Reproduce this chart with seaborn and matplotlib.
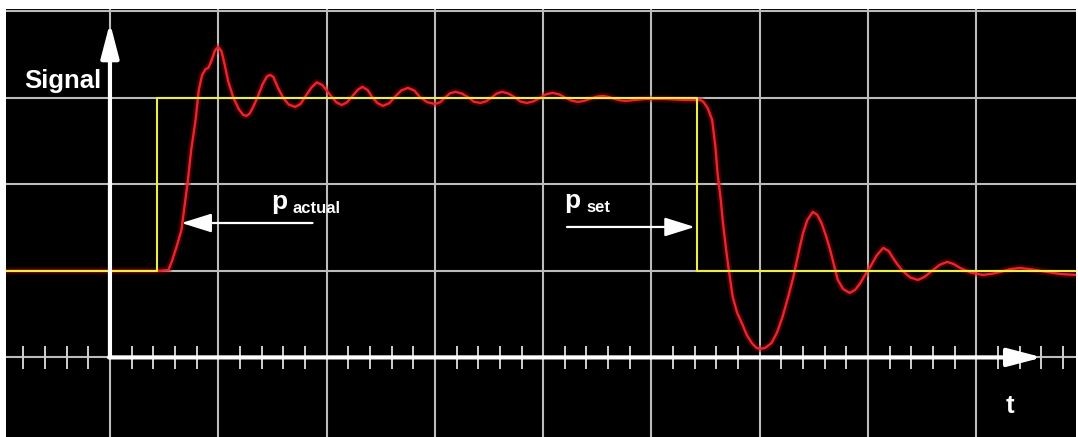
import numpy as np
import pandas as pd
import matplotlib
matplotlib.use('Agg')
from matplotlib import pyplot as plt
import seaborn as sns


# actual value (red trace)
t_actual = [-9.6, 4.6, 5.4, 5.7, 6.2, 6.6, 6.9, 7.2, 7.5, 7.9,
            8.2, 8.5, 8.8, 9.1, 9.4, 9.7, 10.0, 10.3, 10.6, 10.9,
            11.4, 11.9, 12.3, 12.6, 12.9, 13.2, 13.6, 14.1, 14.5, 14.8,
            15.1, 15.5, 16.0, 16.5, 17.1, 17.6, 18.0, 18.6, 19.1, 19.6,
            20.3, 20.9, 21.4, 21.9, 22.4, 22.9, 23.3, 23.8, 24.2, 24.7,
            25.2, 25.8, 26.3, 26.9, 27.5, 28.1, 28.6, 29.3, 30.0, 30.5,
            30.9, 31.4, 31.9, 32.5, 33.1, 33.6, 34.2, 34.7, 35.2, 35.7,
            36.2, 36.8, 37.4, 37.9, 38.5, 39.1, 39.7, 40.3, 40.9, 41.5,
            42.0, 42.6, 43.2, 43.8, 44.3, 44.9, 45.5, 46.1, 46.6, 47.2,
            47.7, 48.5, 49.4, 51.3, 53.1, 54.5, 54.8, 55.2, 55.6, 55.9,
            56.1, 56.4, 56.6, 56.9, 57.1, 57.5, 57.9, 58.4, 58.8, 59.3,
            59.7, 60.0, 60.5, 61.1, 61.6, 62.1, 62.6, 63.1, 63.7, 64.0,
            64.4, 64.9, 65.3, 65.7, 66.1, 66.5, 67.2, 67.7, 68.3, 68.8,
            69.3, 69.7, 70.2, 70.8, 71.4, 71.9, 72.3, 72.8, 73.2, 73.9,
            74.6, 75.2, 75.9, 76.6, 77.3, 77.9, 78.5, 79.5, 80.6, 81.4,
            82.2, 83.1, 84.0, 85.2, 86.5, 87.8, 89.2]
p_actual = [0.0, 0.0, 0.6, 5.2, 15.0, 23.7, 38.0, 52.6, 70.0, 87.0,
            104.6, 113.0, 116.5, 117.5, 122.0, 127.5, 129.5, 127.0, 119.0, 110.0,
            100.0, 93.5, 90.2, 89.6, 91.0, 94.5, 100.0, 108.0, 112.5, 113.3,
            112.0, 106.0, 100.0, 96.2, 94.8, 96.5, 100.5, 106.0, 109.0, 107.5,
            102.0, 97.5, 95.9, 97.5, 101.2, 104.8, 106.4, 104.5, 100.6, 97.0,
            95.4, 97.0, 100.6, 104.3, 105.8, 104.3, 100.6, 97.5, 96.5, 97.5,
            100.0, 102.7, 103.5, 102.5, 100.3, 97.8, 97.1, 98.0, 100.0, 102.5,
            103.5, 102.5, 100.3, 97.9, 97.1, 98.0, 100.0, 102.2, 102.9, 102.0,
            100.3, 98.5, 97.7, 98.3, 99.4, 100.7, 101.2, 100.5, 99.4, 98.5,
            98.3, 98.8, 99.4, 99.4, 98.8, 98.8, 97.7, 94.0, 87.3, 72.0,
            56.6, 41.0, 27.7, 12.0, 2.3, -15.0, -24.0, -31.0, -37.0, -42.0,
            -44.5, -45.1, -44.5, -41.6, -35.5, -26.6, -15.5, -3.5, 13.9, 22.0,
            29.5, 34.1, 32.5, 27.7, 20.5, 12.1, -5.2, -10.5, -12.7, -11.0,
            -6.9, -2.5, 2.3, 9.0, 13.3, 11.5, 7.5, 3.0, 0.0, -3.8,
            -5.2, -3.5, 0.0, 3.5, 5.2, 4.0, 1.7, -1.0, -2.3, -1.7,
            -0.6, 1.0, 1.7, 0.8, -0.6, -1.8, -2.3]

# set value (yellow step)
t_set = [-9.6, 4.3, 4.3, 54.2, 54.2, 89.2]
p_set = [0, 0, 100, 100, 0, 0]

# scope grid
x_major = [0, 10, 20, 30, 40, 50, 60, 70, 80]
y_major = [-50, 0, 50, 100, 150]
x_minor = [v for v in np.arange(-8, 90, 2) if v % 10 != 0]

actual = pd.DataFrame({'t': t_actual, 'p': p_actual})
setp = pd.DataFrame({'t': t_set, 'p': p_set})

sns.set_theme(style='dark', rc={'axes.facecolor': 'black', 'figure.facecolor': 'white'})
plt.rcParams['font.family'] = ['Liberation Sans', 'DejaVu Sans']

fig = plt.figure(figsize=(10.78, 4.37), dpi=100)
ax = fig.add_axes([6 / 1078, 0, 1070 / 1078, 428 / 437])
ax.set_xlim(-9.6, 89.2)
ax.set_ylim(-96.0, 151.4)

# grid
ax.set_xticks(x_major)
ax.set_yticks(y_major)
ax.grid(True, color='#bcbcbc', lw=1.5, zorder=1)
ax.tick_params(length=0, labelbottom=False, labelleft=False)
ax.set_axisbelow(True)
for s in ax.spines.values():
    s.set_visible(False)

# minor ticks on the time axis
ax.vlines(x_minor, -56.5, -43.5, color='#cfcfcf', lw=1.4, zorder=2)

# traces
sns.lineplot(data=actual, x='t', y='p', ax=ax, color='#a00000', lw=5, alpha=0.35,
             sort=False, estimator=None, zorder=3)
sns.lineplot(data=actual, x='t', y='p', ax=ax, color='#ec2430', lw=1.7,
             sort=False, estimator=None, zorder=4)
sns.lineplot(data=setp, x='t', y='p', ax=ax, color='#ecee44', lw=1.5,
             sort=False, estimator=None, zorder=5)
ax.set_xlabel('')
ax.set_ylabel('')

# axis arrows
big = dict(arrowstyle='-|>,head_length=21,head_width=5.5', mutation_scale=1,
           color='white', lw=3, shrinkA=0, shrinkB=0)
ax.annotate('', xy=(0, 143.4), xytext=(0, -50), arrowprops=big, zorder=6)
ax.annotate('', xy=(86.1, -50), xytext=(-0.1, -50), arrowprops=big, zorder=6)

small = dict(arrowstyle='-|>,head_length=18.5,head_width=5.8', mutation_scale=1,
             color='white', lw=1.6, shrinkA=0, shrinkB=0)
ax.annotate('', xy=(6.6, 27.7), xytext=(18.7, 27.7), arrowprops=small, zorder=6)
ax.annotate('', xy=(54.0, 25.4), xytext=(42.2, 25.4), arrowprops=small, zorder=6)

# labels
tk = dict(color='white', fontweight='bold', va='baseline', ha='left', zorder=7)
ax.text(-7.9, 105.8, 'Signal', fontsize=18.5, **tk)
ax.text(82.7, -82.1, 't', fontsize=18.5, **tk)
ax.text(14.9, 35.8, 'p', fontsize=19, **tk)
ax.text(16.9, 33.5, 'actual', fontsize=12, **tk)
ax.text(41.9, 36.4, 'p', fontsize=19, **tk)
ax.text(44.0, 34.1, 'set', fontsize=12, **tk)

fig.savefig('out.png', dpi=100, facecolor='white')
